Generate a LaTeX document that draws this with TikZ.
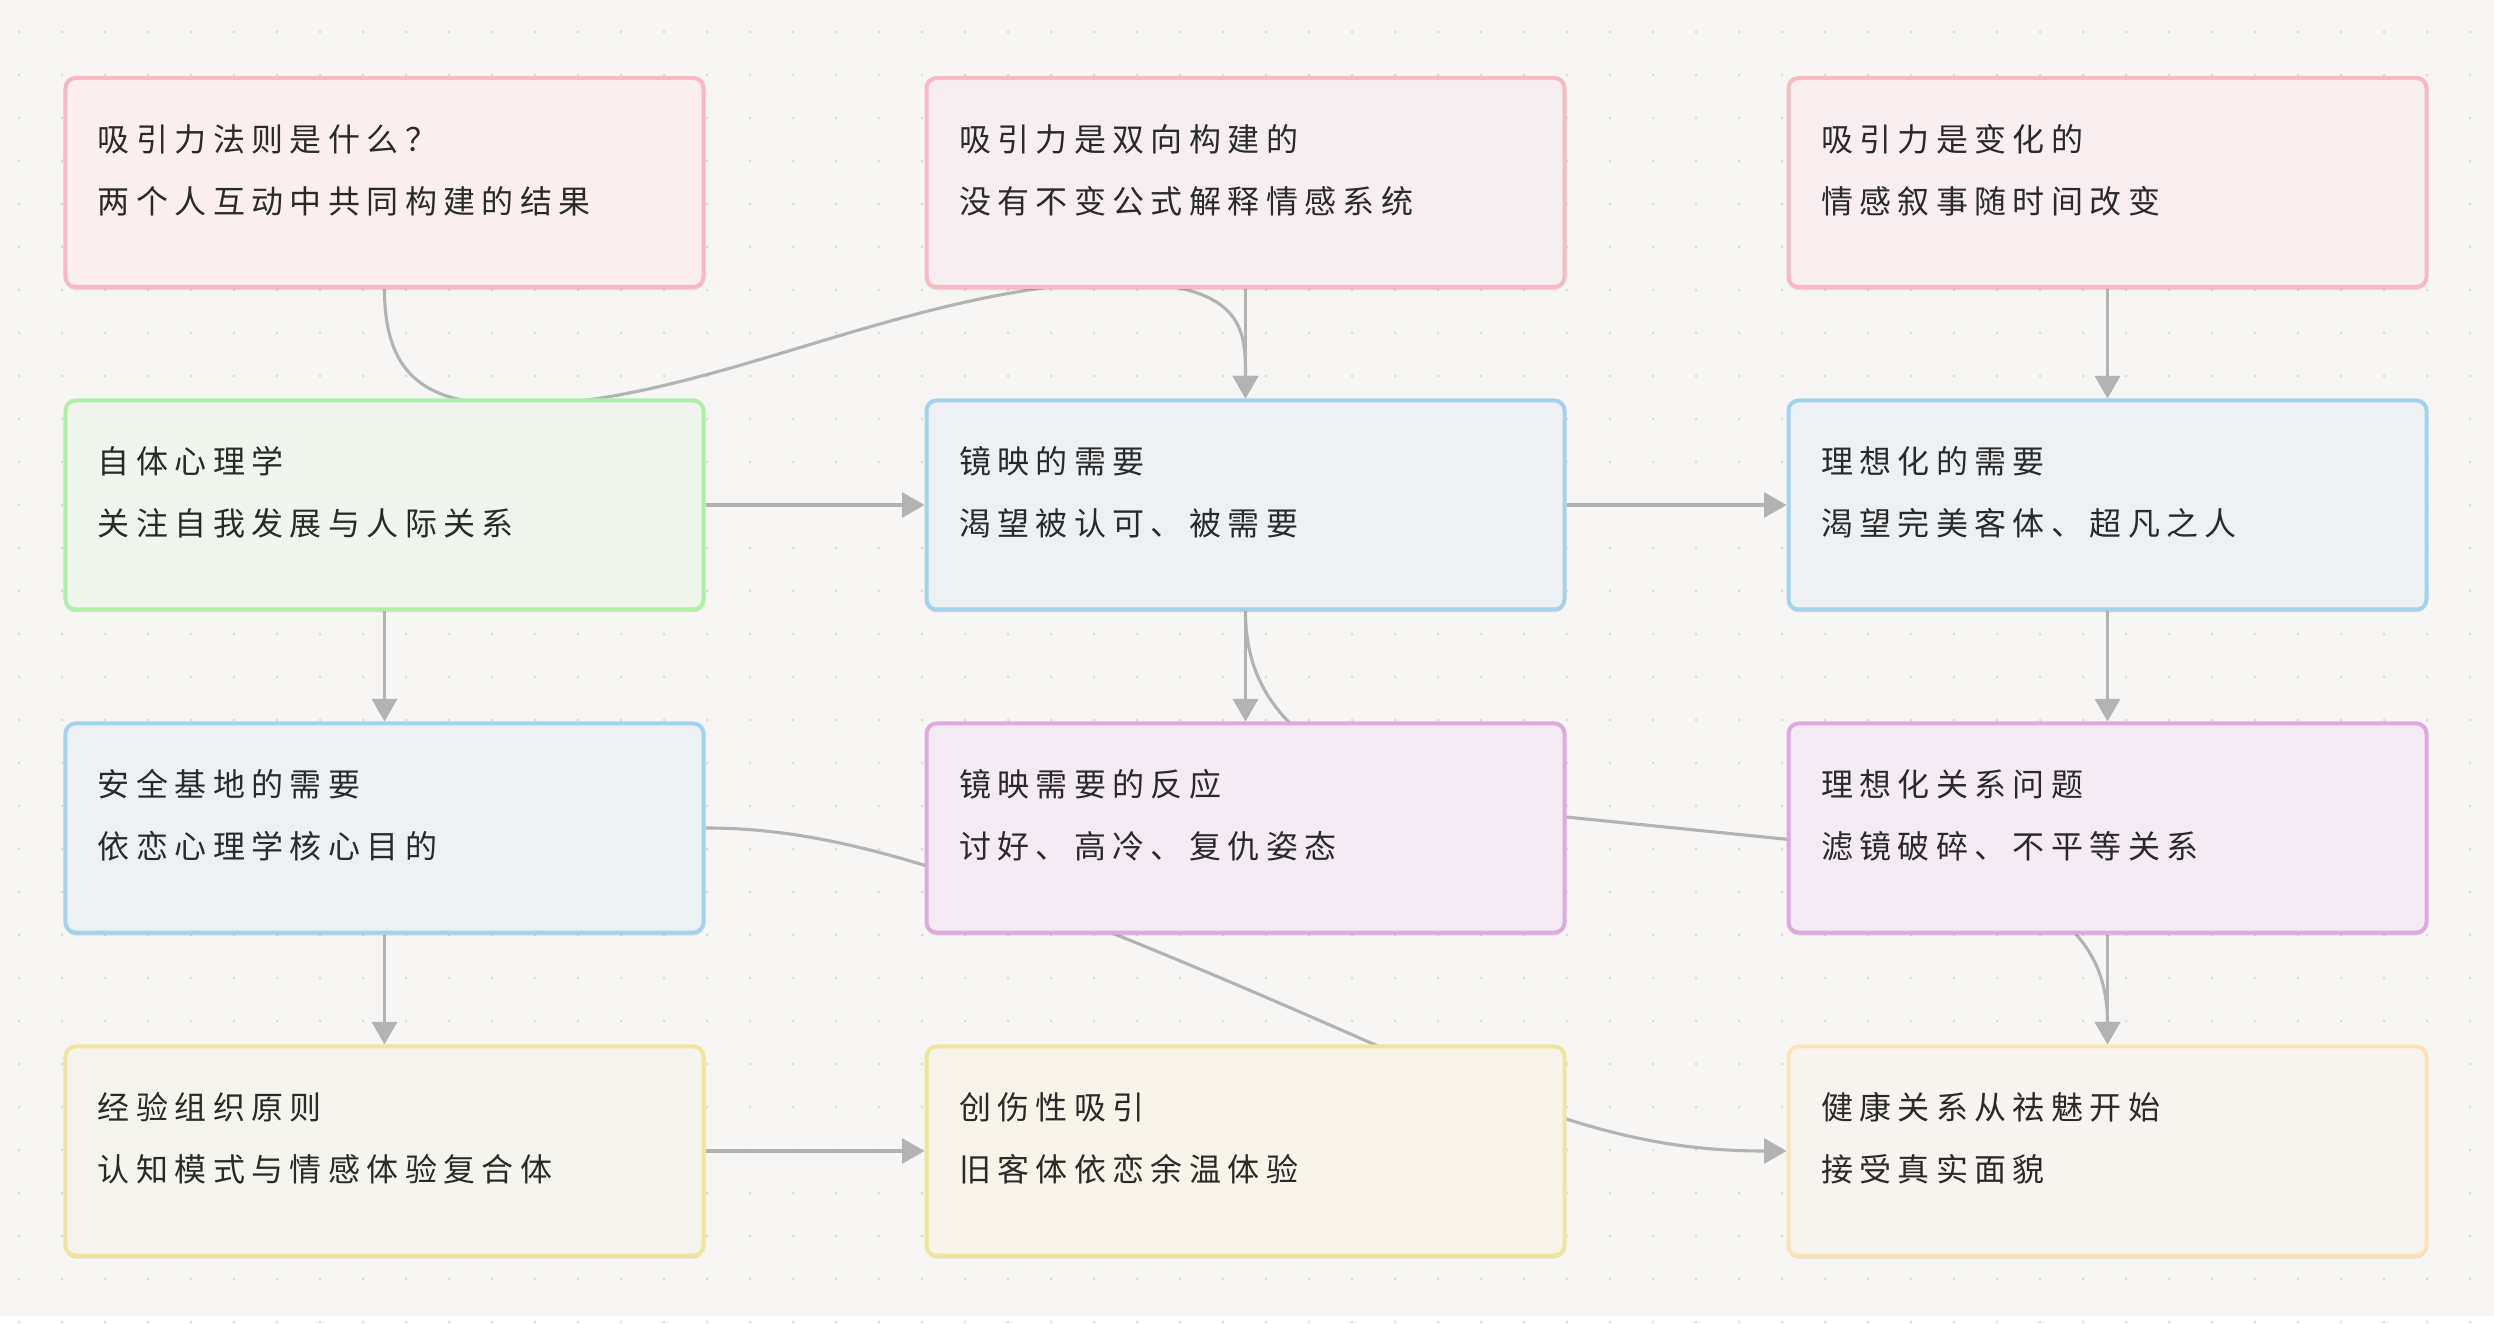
\documentclass[tikz,border=0pt]{standalone}
\usepackage{fontspec}
\newfontfamily\cjk[LetterSpace=20]{Noto Sans CJK SC}
\usetikzlibrary{arrows.meta,calc,shadows}
\pgfdeclarelayer{bg}
\pgfdeclarelayer{edges}
\pgfsetlayers{bg,edges,main}
\definecolor{bgc}{HTML}{F7F6F4}
\definecolor{dotc}{HTML}{DADAD8}
\definecolor{edgec}{HTML}{B3B3B3}
\definecolor{txtc}{HTML}{2A2A2A}
\definecolor{pinkd}{HTML}{F8B9C5}
\definecolor{pinkf1}{HTML}{FBEFEF}
\definecolor{pinkf2}{HTML}{F7EEF1}
\definecolor{pinkf3}{HTML}{F9EFF1}
\definecolor{greend}{HTML}{AEF0A6}
\definecolor{greenf}{HTML}{F0F6EE}
\definecolor{blued}{HTML}{A3D3EB}
\definecolor{bluef}{HTML}{EDF1F4}
\definecolor{purpd}{HTML}{DDAADC}
\definecolor{purpf}{HTML}{F5EBF4}
\definecolor{yelld}{HTML}{EEE5A0}
\definecolor{yellf1}{HTML}{F5F5EE}
\definecolor{yellf2}{HTML}{F8F4EA}
\definecolor{orand}{HTML}{FCE4BA}
\definecolor{oranf}{HTML}{F8F5F0}
\tikzset{
  box/.style={rectangle, rounded corners=4pt, line width=1.6pt,
    minimum width=255.2pt, minimum height=83.6pt, inner sep=0pt,
    drop shadow={shadow xshift=0pt, shadow yshift=-1.2pt, opacity=0.10, fill=black}},
  pinkbox/.style={box, draw=pinkd},
  greenbox/.style={box, draw=greend, fill=greenf},
  bluebox/.style={box, draw=blued, fill=bluef},
  purpbox/.style={box, draw=purpd, fill=purpf},
  yellbox/.style={box, draw=yelld},
  oranbox/.style={box, draw=orand, fill=oranf},
  txt/.style={anchor=west, inner sep=0pt, text=txtc, font=\cjk\fontsize{12.8pt}{15pt}\selectfont},
  edge/.style={draw=edgec, line width=1.25pt, -{Triangle[length=9pt,width=10pt]}}
}
\newcommand\mkbox[6]{%
  \node[#4] (#1) at (#2,#3) {};
  \node[txt] (#1a) at ($(#1.north west)+(34,63)$) {#5};
  \node[txt] (#1b) at ($(#1.north west)+(34,125)$) {#6};
}
\begin{document}
\begin{tikzpicture}[x=0.4pt,y=-0.4pt]
\begin{pgfonlayer}{bg}
  \fill[bgc] (0,0) rectangle (2494,1316);
  \foreach \i in {0,...,57} {
    \foreach \j in {0,...,30} {
      \fill[dotc] (19+43*\i,32+43*\j) circle[radius=1.5];
    }
  }
\end{pgfonlayer}
\useasboundingbox (0,0) rectangle (2494,1316);

\mkbox{A}{384.5}{182.5}{pinkbox, fill=pinkf1}{吸引力法则是什么？}{两个人互动中共同构建的结果}
\mkbox{B}{1245.5}{182.5}{pinkbox, fill=pinkf2}{吸引力是双向构建的}{没有不变公式解释情感系统}
\mkbox{C}{2107.5}{182.5}{pinkbox, fill=pinkf3}{吸引力是变化的}{情感叙事随时间改变}
\mkbox{D}{384.5}{505}{greenbox}{自体心理学}{关注自我发展与人际关系}
\mkbox{E}{1245.5}{505}{bluebox}{镜映的需要}{渴望被认可、被需要}
\mkbox{F}{2107.5}{505}{bluebox}{理想化的需要}{渴望完美客体、超凡之人}
\mkbox{G}{384.5}{828}{bluebox}{安全基地的需要}{依恋心理学核心目的}
\mkbox{H}{1245.5}{828}{purpbox}{镜映需要的反应}{讨好、高冷、复仇姿态}
\mkbox{I}{2107.5}{828}{purpbox}{理想化关系问题}{滤镜破碎、不平等关系}
\mkbox{K}{384.5}{1151}{yellbox, fill=yellf1}{经验组织原则}{认知模式与情感体验复合体}
\mkbox{J}{1245.5}{1151}{yellbox, fill=yellf2}{创伤性吸引}{旧客体依恋余温体验}
\mkbox{L}{2107.5}{1151}{oranbox}{健康关系从祛魅开始}{接受真实面貌}

\begin{pgfonlayer}{edges}
  \draw[edge] (A.south) .. controls (384.5,380) and (430,405) .. (518,405)
     .. controls (700,405) and (900,290) .. (1110,282)
     .. controls (1245.5,282) and (1245.5,330) .. (E.north);
  \draw[edge] (B.south) -- (E.north);
  \draw[edge] (C.south) -- (F.north);
  \draw[edge] (D.east) -- (E.west);
  \draw[edge] (E.east) -- (F.west);
  \draw[edge] (D.south) -- (G.north);
  \draw[edge] (E.south) -- (H.north);
  \draw[edge] (F.south) -- (I.north);
  \draw[edge] (G.south) -- (K.north);
  \draw[edge] (K.east) -- (J.west);
  \draw[edge] (I.south) -- (L.north);
  \draw[edge] (E.south) .. controls (1245.5,700) and (1300,790) .. (1566,817)
     -- (1784,839) .. controls (2040,865) and (2107.5,930) .. (L.north);
  \draw[edge] (G.east) .. controls (850,828) and (1000,880) .. (1371,1043)
     .. controls (1560,1125) and (1650,1151) .. (L.west);
\end{pgfonlayer}
\end{tikzpicture}
\end{document}
